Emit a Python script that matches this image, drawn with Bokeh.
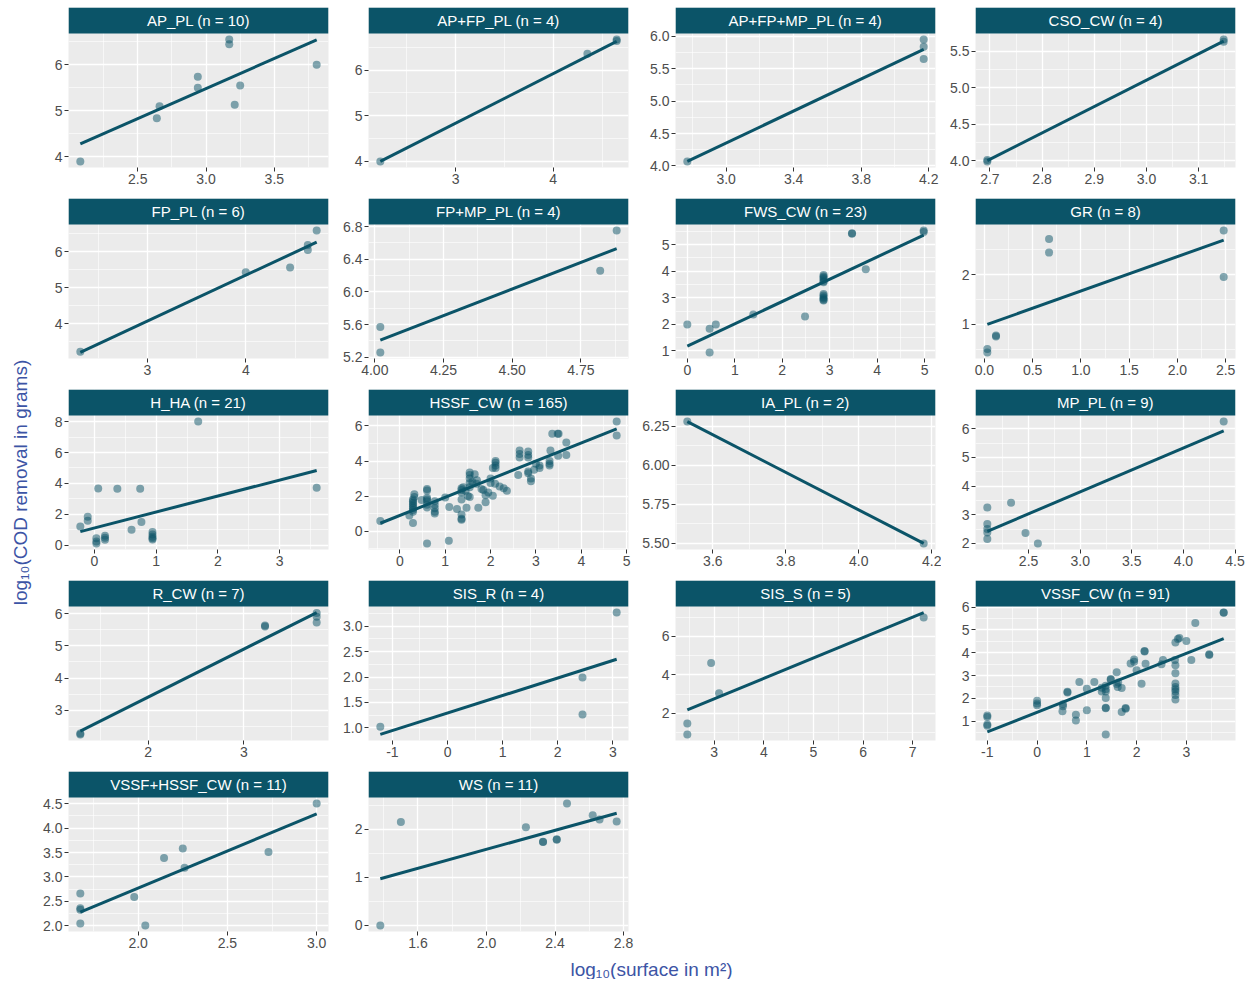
import math
from bokeh.plotting import figure
from bokeh.models import FixedTicker, Range1d, Label, PrintfTickFormatter
from bokeh.layouts import gridplot, column, row
from bokeh.embed import file_html
from bokeh.resources import INLINE

FONT = "Liberation Sans"
TEAL = "#0B5468"
PANEL_BG = "#EBEBEB"
TITLE_BLUE = "#3C54A5"

# ---------------- data ----------------
panel_names = ["AP_PL", "AP+FP_PL", "AP+FP+MP_PL", "CSO_CW",
               "FP_PL", "FP+MP_PL", "FWS_CW", "GR",
               "H_HA", "HSSF_CW", "IA_PL", "MP_PL",
               "R_CW", "SIS_R", "SIS_S", "VSSF_CW",
               "VSSF+HSSF_CW", "WS"]
panel_n = [10, 4, 4, 4, 6, 4, 23, 8, 21, 165, 2, 9, 7, 4, 5, 91, 11, 11]

ap_pl_x = [2.08, 2.64, 2.66, 2.94, 2.94, 3.17, 3.17, 3.21, 3.25, 3.81]
ap_pl_y = [3.90, 4.84, 5.10, 5.50, 5.74, 6.55, 6.45, 5.13, 5.55, 6.00]

ap_fp_pl_x = [2.23, 4.35, 4.65, 4.65]
ap_fp_pl_y = [4.00, 6.36, 6.67, 6.64]

ap_fp_mp_pl_x = [2.77, 4.17, 4.17, 4.17]
ap_fp_mp_pl_y = [4.07, 5.95, 5.84, 5.65]

cso_cw_x = [2.695, 2.695, 3.148, 3.148]
cso_cw_y = [3.99, 4.01, 5.63, 5.66]

fp_pl_x = [2.32, 4.00, 4.45, 4.63, 4.63, 4.72]
fp_pl_y = [3.23, 5.43, 5.56, 6.18, 6.04, 6.58]

fp_mp_pl_x = [4.02, 4.02, 4.82, 4.88]
fp_mp_pl_y = [5.57, 5.26, 6.26, 6.75]

fws_cw_x = [0.0, 0.47, 0.47, 0.60, 1.39, 2.48,
            2.87, 2.87, 2.87, 2.87, 2.87, 2.87,
            2.87, 2.87, 2.87, 2.87, 2.87, 2.87,
            3.47, 3.47, 3.76, 4.98, 4.98]
fws_cw_y = [1.99, 1.83, 0.94, 1.99, 2.37, 2.29,
            3.86, 3.80, 3.75, 3.70, 3.62, 3.58,
            3.14, 3.08, 3.02, 2.97, 2.92, 2.90,
            5.43, 5.41, 4.07, 5.53, 5.48]

gr_x = [0.03, 0.03, 0.12, 0.12, 0.67, 0.67, 2.48, 2.48]
gr_y = [0.51, 0.44, 0.76, 0.78, 2.71, 2.44, 2.88, 1.95]

h_ha_x = [-0.23, -0.11, -0.11, 0.03, 0.03, 0.03, 0.06, 0.17, 0.17, 0.17,
          0.37, 0.60, 0.74, 0.76, 0.94, 0.94, 0.94, 0.94, 0.94, 1.68, 3.60]
h_ha_y = [1.21, 1.85, 1.59, 0.45, 0.25, 0.12, 3.67, 0.62, 0.48, 0.35,
          3.65, 1.01, 3.65, 1.50, 0.86, 0.70, 0.55, 0.45, 0.38, 8.00, 3.72]

hssf_cw_x = [-0.43, 0.21, 0.29, 0.32, 0.32,
             0.29, 0.29, 0.29, 0.29, 0.29, 0.29, 0.29, 0.29,
             0.48, 0.60, 0.60, 0.60, 0.60, 0.60, 0.60, 0.60, 0.60,
             0.77, 0.77, 0.77, 0.77, 0.77, 1.00, 1.09, 1.08, 1.26,
             1.36, 1.36, 1.36, 1.36, 1.36, 1.36, 1.36, 1.47,
             1.54, 1.54, 1.54, 1.54, 1.54, 1.54, 1.65, 1.69, 1.73,
             1.84, 1.89, 1.89, 2.00, 2.05,
             2.11, 2.11, 2.11, 2.11, 2.05, 2.20, 2.29, 2.36,
             2.61, 2.64, 2.64, 2.64, 2.83, 2.83, 2.83, 2.83, 2.83,
             2.89, 2.89, 2.96, 3.00, 3.08, 3.08,
             3.30, 3.30, 3.30, 3.32, 3.36, 3.50, 3.48,
             3.49, 3.67, 3.67, 4.78, 4.78,
             1.40, 1.45, 1.50, 1.60, 1.70, 1.80, 1.95, 2.10, 2.00]
hssf_cw_y = [0.58, 0.89, 0.47, 2.10, 1.95,
             1.80, 1.70, 1.60, 1.50, 1.40, 1.30, 1.20, 1.10,
             1.77, 2.40, 2.32, 1.90, 1.80, 1.70, 1.50, 1.35, -0.70,
             1.70, 1.50, 1.30, 1.10, 1.00, 1.92, 1.38, -0.55, 1.27,
             2.45, 2.35, 2.20, 1.80, 0.95, 0.70, 0.65, 1.33,
             3.35, 3.20, 3.00, 2.75, 2.50, 1.95, 3.25, 2.70, 1.33,
             2.35, 1.65, 2.05, 2.75, 2.02,
             4.00, 3.90, 3.75, 3.60, 3.60, 2.55, 2.45, 2.30,
             3.20, 4.60, 4.40, 4.20, 4.55, 4.35, 4.20, 3.40, 3.30,
             3.00, 2.85, 3.50, 3.85, 3.75, 3.60,
             4.00, 3.85, 3.75, 4.60, 5.55, 5.55, 5.55,
             4.30, 5.05, 4.35, 6.25, 5.45,
             2.50, 2.30, 2.00, 2.80, 2.90, 2.40, 2.20, 2.70, 3.00]

ia_pl_x = [3.53, 4.178]
ia_pl_y = [6.28, 5.50]

mp_pl_x = [2.10, 2.10, 2.10, 2.10, 2.10, 2.33, 2.47, 2.59, 4.39]
mp_pl_y = [3.25, 2.68, 2.50, 2.38, 2.15, 3.42, 2.36, 2.00, 6.25]

r_cw_x = [1.29, 1.29, 3.22, 3.22, 3.76, 3.76, 3.76]
r_cw_y = [2.25, 2.28, 5.63, 5.60, 6.02, 5.90, 5.72]

sis_r_x = [-1.22, 2.45, 2.45, 3.07]
sis_r_y = [1.02, 1.99, 1.26, 3.27]

sis_s_x = [2.46, 2.46, 2.94, 3.10, 7.22]
sis_s_y = [1.47, 0.91, 4.62, 3.04, 6.97]

vssf_cw_x = [-1.0, -1.0, -1.0, -1.0, 0.0, 0.0, 0.0,
             0.51, 0.52, 0.52, 0.61, 0.61, 0.78, 0.78, 0.85,
             1.00, 1.00, 1.15, 1.30, 1.30,
             1.38, 1.38, 1.38, 1.38, 1.38, 1.38, 1.38,
             1.48, 1.48, 1.60, 1.60, 1.62, 1.63, 1.70, 1.70, 1.78, 1.78,
             1.88, 1.95, 1.95, 2.00, 2.10, 2.16, 2.16, 2.18,
             2.50, 2.53, 2.77, 2.78, 2.78, 2.78, 2.78, 2.78, 2.78, 2.78, 2.78,
             2.78, 2.83, 2.86, 3.00, 3.10, 3.18, 3.46, 3.46, 3.75, 3.75]
vssf_cw_y = [1.25, 1.18, 0.85, 0.80, 1.90, 1.78, 1.70,
             1.44, 1.74, 1.65, 2.29, 2.26, 1.28, 1.03, 2.72,
             2.42, 1.48, 2.72, 2.46, 2.30,
             2.55, 2.40, 2.30, 2.02, 1.59, 1.57, 0.42,
             2.82, 2.85, 3.15, 2.63, 2.50, 2.70, 2.45, 1.40, 1.58, 1.55,
             3.53, 3.70, 3.60, 3.23, 2.64, 4.08, 4.05, 3.52,
             3.50, 3.68, 3.68, 3.45, 3.10, 2.65, 2.50, 2.40, 2.30, 2.15, 1.95,
             4.45, 4.60, 4.65, 4.52, 3.68, 5.30, 3.93, 3.90, 5.76, 5.75]

vssf_hssf_cw_x = [1.676, 1.676, 1.676, 1.676, 1.978, 2.04, 2.145, 2.25, 2.26, 2.73, 3.00]
vssf_hssf_cw_y = [2.66, 2.36, 2.33, 2.05, 2.59, 2.01, 3.39, 3.58, 3.19, 3.51, 4.50]

ws_x = [1.38, 1.50, 2.23, 2.33, 2.33, 2.41, 2.41, 2.47, 2.62, 2.66, 2.76]
ws_y = [0.00, 2.15, 2.04, 1.73, 1.74, 1.78, 1.79, 2.53, 2.29, 2.20, 2.16]

point_x = [ap_pl_x, ap_fp_pl_x, ap_fp_mp_pl_x, cso_cw_x, fp_pl_x, fp_mp_pl_x,
           fws_cw_x, gr_x, h_ha_x, hssf_cw_x, ia_pl_x, mp_pl_x, r_cw_x,
           sis_r_x, sis_s_x, vssf_cw_x, vssf_hssf_cw_x, ws_x]
point_y = [ap_pl_y, ap_fp_pl_y, ap_fp_mp_pl_y, cso_cw_y, fp_pl_y, fp_mp_pl_y,
           fws_cw_y, gr_y, h_ha_y, hssf_cw_y, ia_pl_y, mp_pl_y, r_cw_y,
           sis_r_y, sis_s_y, vssf_cw_y, vssf_hssf_cw_y, ws_y]

# fitted line end values, at min / max x of each panel
fit_y_start = [4.28, 4.00, 4.07, 4.00, 3.21, 5.41, 1.18, 1.00, 0.88, 0.45,
               6.28, 2.42, 2.35, 0.87, 2.18, 0.53, 2.28, 0.97]
fit_y_end = [6.545, 6.63, 5.80, 5.64, 6.26, 6.53, 5.36, 2.69, 4.84, 5.84,
             5.50, 5.93, 6.03, 2.35, 7.23, 4.62, 4.29, 2.33]

x_tick_labels = [["2.5", "3.0", "3.5"], ["3", "4"], ["3.0", "3.4", "3.8", "4.2"],
                 ["2.7", "2.8", "2.9", "3.0", "3.1"],
                 ["3", "4"], ["4.00", "4.25", "4.50", "4.75"], ["0", "1", "2", "3", "4", "5"],
                 ["0.0", "0.5", "1.0", "1.5", "2.0", "2.5"],
                 ["0", "1", "2", "3"], ["0", "1", "2", "3", "4", "5"], ["3.6", "3.8", "4.0", "4.2"],
                 ["2.5", "3.0", "3.5", "4.0", "4.5"],
                 ["2", "3"], ["-1", "0", "1", "2", "3"], ["3", "4", "5", "6", "7"],
                 ["-1", "0", "1", "2", "3"],
                 ["2.0", "2.5", "3.0"], ["1.6", "2.0", "2.4", "2.8"]]
y_tick_labels = [["4", "5", "6"], ["4", "5", "6"], ["4.0", "4.5", "5.0", "5.5", "6.0"],
                 ["4.0", "4.5", "5.0", "5.5"],
                 ["4", "5", "6"], ["5.2", "5.6", "6.0", "6.4", "6.8"], ["1", "2", "3", "4", "5"],
                 ["1", "2"],
                 ["0", "2", "4", "6", "8"], ["0", "2", "4", "6"], ["5.50", "5.75", "6.00", "6.25"],
                 ["2", "3", "4", "5", "6"],
                 ["3", "4", "5", "6"], ["1.0", "1.5", "2.0", "2.5", "3.0"], ["2", "4", "6"],
                 ["1", "2", "3", "4", "5", "6"],
                 ["2.0", "2.5", "3.0", "3.5", "4.0", "4.5"], ["0", "1", "2"]]

y_title = "log\u2081\u2080(COD removal in grams)"
x_title = "log\u2081\u2080(surface in m\u00b2)"

# ---------------- layout constants ----------------
FW, FH, SH = 260, 134, 26
COL_L = [30, 34, 41, 34]
COL_R = [6, 6, 6, 12]
N_ROWS = 5
ROW_B = [31, 31, 31, 31, 27]
TOP_PAD = 7
YLAB_W = 38


def ticks_and_minor(labels):
    vals = [float(s) for s in labels]
    step = vals[1] - vals[0] if len(vals) > 1 else 1.0
    minor = [vals[0] - step / 2] + [(a + b) / 2 for a, b in zip(vals[:-1], vals[1:])] + [vals[-1] + step / 2]
    dec = len(labels[0].split(".")[1]) if "." in labels[0] else 0
    return vals, minor, dec


def expand(vals):
    lo, hi = min(vals), max(vals)
    d = hi - lo
    return lo - 0.05 * d, hi + 0.05 * d


def style_axis(ax, labels):
    vals, minor, dec = ticks_and_minor(labels)
    t = FixedTicker(ticks=vals, minor_ticks=minor)
    ax.ticker = t
    ax.formatter = PrintfTickFormatter(format="%." + str(dec) + "f")
    ax.axis_line_color = None
    ax.major_tick_line_color = "#333333"
    ax.major_tick_in = 0
    ax.major_tick_out = 4
    ax.minor_tick_line_color = None
    ax.major_label_text_font = FONT
    ax.major_label_text_font_size = "14px"
    ax.major_label_text_color = "#4D4D4D"
    ax.major_label_standoff = 2
    return t


def make_panel(i, col, r):
    xs, ys = point_x[i], point_y[i]
    x0, x1 = float(min(xs)), float(max(xs))
    y0, y1 = float(fit_y_start[i]), float(fit_y_end[i])
    xlo, xhi = expand(xs)
    ylo, yhi = expand(list(ys) + [y0, y1])
    # the facet strip sits on top of the data area, inside the same frame
    ytop = yhi + (yhi - ylo) * SH / FH
    p = figure(frame_width=FW, frame_height=FH + SH,
               x_range=Range1d(start=xlo, end=xhi), y_range=Range1d(start=ylo, end=ytop),
               min_border_left=COL_L[col], min_border_right=COL_R[col],
               min_border_top=TOP_PAD if r == 0 else 0, min_border_bottom=ROW_B[r],
               background_fill_color=PANEL_BG, border_fill_color="white",
               outline_line_color=None, toolbar_location=None, output_backend="svg")
    tx = style_axis(p.xaxis[0], x_tick_labels[i])
    ty = style_axis(p.yaxis[0], y_tick_labels[i])
    p.xgrid.ticker = tx
    p.ygrid.ticker = ty
    for g in (p.xgrid, p.ygrid):
        g.grid_line_color = "white"
        g.grid_line_width = 1.3
        g.minor_grid_line_color = "white"
        g.minor_grid_line_width = 0.6
    p.scatter(xs, ys, size=8, fill_color=TEAL, fill_alpha=0.5, line_color=None)
    if x0 < x1:
        p.line([x0, x1], [y0, y1], line_color=TEAL, line_width=3)
    # strip
    p.quad(left=[xlo], right=[xhi], bottom=[yhi], top=[ytop],
           fill_color=TEAL, line_color=None)
    p.add_layout(Label(x=(xlo + xhi) / 2, y=(yhi + ytop) / 2,
                       text="%s (n = %d)" % (panel_names[i], panel_n[i]),
                       text_align="center", text_baseline="middle", text_color="white",
                       text_font=FONT, text_font_size="15px"))
    return p


rows = []
for r in range(N_ROWS):
    panel_row = []
    for c in range(4):
        i = r * 4 + c
        if i < len(panel_names):
            panel_row.append(make_panel(i, c, r))
        else:
            panel_row.append(None)
    rows.append(panel_row)

grid = gridplot(rows, toolbar_location=None)

GRID_W = sum(COL_L) + sum(COL_R) + 4 * FW
GRID_H = TOP_PAD + sum(SH + FH + b for b in ROW_B)

XLAB_H = 21
ylab = figure(frame_width=YLAB_W, frame_height=GRID_H + XLAB_H, x_range=Range1d(0, YLAB_W),
              y_range=Range1d(0, GRID_H + XLAB_H),
              min_border=0, x_axis_location=None, y_axis_location=None,
              outline_line_color=None, toolbar_location=None, output_backend="svg",
              background_fill_color="white", border_fill_color="white")
ylab.grid.visible = False
ylab.add_layout(Label(x=20, y=GRID_H + XLAB_H - 482, text=y_title, angle=math.pi / 2,
                      text_align="center", text_baseline="middle", text_color=TITLE_BLUE,
                      text_font=FONT, text_font_size="19px"))

xlab = figure(frame_width=GRID_W, frame_height=XLAB_H, x_range=Range1d(0, GRID_W), y_range=Range1d(0, XLAB_H),
              min_border=0, x_axis_location=None, y_axis_location=None,
              outline_line_color=None, toolbar_location=None, output_backend="svg",
              background_fill_color="white", border_fill_color="white")
xlab.grid.visible = False
xlab.add_layout(Label(x=651 - YLAB_W, y=XLAB_H / 2, text=x_title,
                      text_align="center", text_baseline="middle", text_color=TITLE_BLUE,
                      text_font=FONT, text_font_size="19px"))

layout = row(ylab, column(grid, xlab))

open("out.html", "w").write(file_html(layout, INLINE))
